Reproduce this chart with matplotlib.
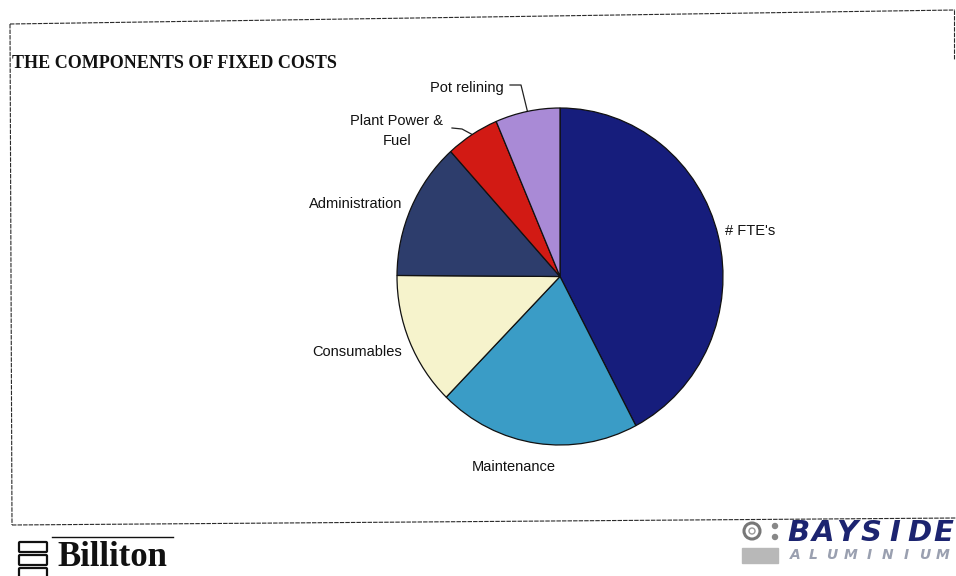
import matplotlib.pyplot as plt
import numpy as np
from matplotlib.patches import FancyBboxPatch, Circle, Rectangle

# Fixed cost breakdown (share of total, %)
components = ["# FTE's", "Maintenance", "Consumables", "Administration",
              "Plant Power &\nFuel", "Pot relining"]
shares = [42.3, 20.0, 12.8, 13.2, 5.3, 6.4]
colors = ["#161d7c", "#3a9cc6", "#f6f3cc", "#2d3d6c", "#d21a14", "#a98ad6"]

W, H = 956, 576
fig = plt.figure(figsize=(W / 100, H / 100), dpi=100)
fig.patch.set_facecolor("white")

# full-page overlay in pixel units (origin top-left) for text, frame and logos
page = fig.add_axes([0, 0, 1, 1])
page.set_xlim(0, W)
page.set_ylim(H, 0)
page.axis("off")


def frac_box(left, top, right, bottom):
    return [left / W, 1 - bottom / H, (right - left) / W, (bottom - top) / H]


# pie axes (slightly taller than wide, like the printed slide)
ax = fig.add_axes(frac_box(397, 108, 723, 445))
wedges, _ = ax.pie(shares, colors=colors, startangle=90, counterclock=False,
                   wedgeprops=dict(edgecolor="#111111", linewidth=0.9))
ax.set_xlim(-1, 1)
ax.set_ylim(-1, 1)
ax.set_aspect("auto")
ax.axis("off")

lab_font = dict(family="Liberation Sans", fontsize=10.5, color="#111111")

# label anchors in pixels: (x, y, ha)
label_pos = [(725, 231, "left"), (514, 467, "center"), (402, 352, "right"),
             (402, 204, "right"), (397, 131, "center"), (467, 88, "center")]
for name, (x, y, ha) in zip(components, label_pos):
    page.text(x, y, name, ha=ha, va="center", linespacing=1.55, **lab_font)


def edge_point(i):
    """pixel position on the rim at the middle of wedge i"""
    w = wedges[i]
    mid = np.deg2rad((w.theta1 + w.theta2) / 2)
    disp = ax.transData.transform((np.cos(mid), np.sin(mid)))
    return page.transData.inverted().transform(disp)


# leader lines for the two thin slices
for i, start in [(5, [(510, 85), (521, 85)]), (4, [(452, 128), (462, 129)])]:
    pts = start + [tuple(edge_point(i))]
    page.plot([p[0] for p in pts], [p[1] for p in pts], color="#222222", lw=0.9)

# title
page.text(12, 63, "THE COMPONENTS OF FIXED COSTS", ha="left", va="center",
          family="Liberation Serif", fontweight="bold", fontsize=13,
          color="#111111")

# page frame
frame = [((10, 24), (955, 10)), ((10, 24), (12, 525)),
         ((12, 525), (956, 518)), ((954, 10), (954, 60))]
for (x0, y0), (x1, y1) in frame:
    page.plot([x0, x1], [y0, y1], color="#2a2a2a", lw=0.8, ls=(0, (4, 1)))

# Billiton logo
page.plot([52, 173], [537, 537], color="#111111", lw=1.0)
page.text(57, 557, "Billiton", ha="left", va="center",
          family="Liberation Serif", fontweight="bold", fontsize=25,
          color="#111111")
for y in (543, 556, 569):
    page.add_patch(FancyBboxPatch((20, y), 26, 8, boxstyle="round,pad=1",
                                  fill=False, ec="#111111", lw=1.6))

# Bayside Aluminium logo
page.add_patch(Circle((752, 531), 8, fill=False, ec="#777777", lw=2.2))
page.add_patch(Circle((752, 531), 3, fill=False, ec="#999999", lw=1.0))
page.add_patch(Circle((775, 526), 2.5, color="#888888"))
page.add_patch(Circle((775, 537), 2.5, color="#888888"))
page.add_patch(Rectangle((742, 548), 36, 15, color="#b8b8b8"))
for k, ch in enumerate("BAYSIDE"):
    page.text(799 + k * 24, 533, ch, ha="center", va="center",
              family="DejaVu Sans", fontweight="heavy", style="italic",
              fontsize=21, color="#1c2470")
for k, ch in enumerate("ALUMINIUM"):
    page.text(795 + k * 18.5, 555, ch, ha="center", va="center",
              family="DejaVu Sans", fontweight="bold", style="italic",
              fontsize=10, color="#9aa0b0")

fig.savefig("out.png", dpi=100)
